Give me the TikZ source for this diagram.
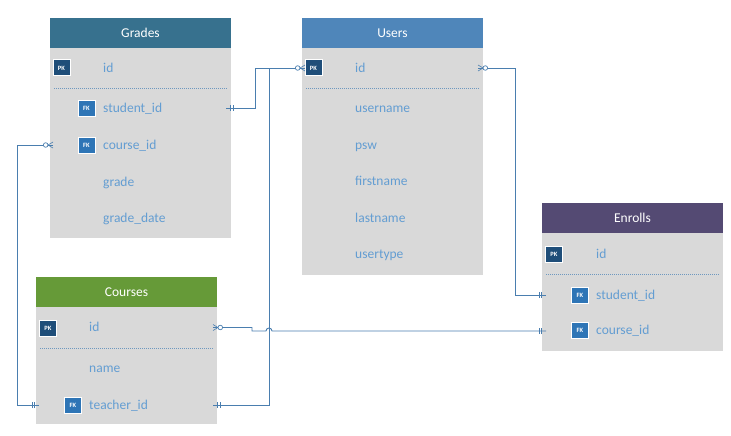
\documentclass[tikz,border=0pt]{standalone}
\usepackage{fontspec}
\setmainfont{Carlito}
\usetikzlibrary{positioning}
\definecolor{gradeshd}{HTML}{37718E}
\definecolor{usershd}{HTML}{4F86BA}
\definecolor{courseshd}{HTML}{669A38}
\definecolor{enrollshd}{HTML}{544A73}
\definecolor{bodygray}{HTML}{D9D9D9}
\definecolor{fieldblue}{HTML}{639DD2}
\definecolor{pkblue}{HTML}{1F4E79}
\definecolor{fkblue}{HTML}{2E75B6}
\definecolor{relblue}{HTML}{4A7EAF}

\begin{document}
\begin{tikzpicture}[x=1pt,y=-1pt,
    hdr/.style={minimum width=181pt,minimum height=30pt,inner sep=0pt,text=white,font=\fontsize{13.5}{16}\selectfont},
    tbl/.style={fill=bodygray,minimum width=181pt,inner sep=0pt},
    fld/.style={anchor=base west,yshift=-4.5pt,inner sep=0pt,text=fieldblue,font=\fontsize{13.5}{16}\selectfont},
    pk/.style={fill=pkblue,draw=white,line width=1pt,minimum width=17pt,minimum height=16pt,inner sep=0pt,text=white,font=\fontsize{6.5}{7}\selectfont\bfseries},
    fk/.style={pk,fill=fkblue},
    sep/.style={draw=relblue!80,dash pattern=on 1pt off 1pt,line width=.6pt},
    rel/.style={draw=relblue,line width=.9pt},
    one/.pic={\draw[rel,line width=.6pt] (4.5,-3) -- (4.5,3) (7,-3) -- (7,3);},
    zmany/.pic={\draw[rel,line width=.6pt] (0,-3) -- (5,0) -- (0,3);
                \draw[rel,line width=.7pt,fill=white] (7.3,0) circle[radius=2.3];}
    ]
    \useasboundingbox (0,0) rectangle (731,436);

    %% Grades
    \node[hdr,fill=gradeshd] (grades) at (140.5,33) {Grades};
    \node[tbl,minimum height=190pt,below=0pt of grades] (gradesb) {};
    \node[pk] (g-pk) at (61.5,68) {PK};
    \node[fld] (g-id) at (103,68) {id};
    \draw[sep] (54,88) -- (227,88);
    \node[fk] (g-fk1) at (86.5,108) {FK};
    \node[fld] (g-sid) at (103,108) {student\_id};
    \node[fk] (g-fk2) at (86.5,145) {FK};
    \node[fld] (g-cid) at (103,145) {course\_id};
    \node[fld] (g-gr) at (103,182) {grade};
    \node[fld] (g-gd) at (103,218) {grade\_date};

    %% Users
    \node[hdr,fill=usershd] (users) at (392.5,33) {Users};
    \node[tbl,minimum height=227pt,below=0pt of users] (usersb) {};
    \node[pk] (u-pk) at (313.5,68) {PK};
    \node[fld] (u-id) at (355,68) {id};
    \draw[sep] (306,88) -- (479,88);
    \node[fld] (u-un) at (355,108) {username};
    \node[fld] (u-pw) at (355,145) {psw};
    \node[fld] (u-fn) at (355,181) {firstname};
    \node[fld] (u-ln) at (355,218) {lastname};
    \node[fld] (u-ut) at (355,254) {usertype};

    %% Courses
    \node[hdr,fill=courseshd] (courses) at (126.5,292) {Courses};
    \node[tbl,minimum height=117pt,below=0pt of courses] (coursesb) {};
    \node[pk] (c-pk) at (48,328) {PK};
    \node[fld] (c-id) at (89,327) {id};
    \draw[sep] (40,348) -- (213,348);
    \node[fld] (c-nm) at (89,368) {name};
    \node[fk] (c-fk) at (73,405) {FK};
    \node[fld] (c-tid) at (89,405) {teacher\_id};

    %% Enrolls
    \node[hdr,fill=enrollshd] (enrolls) at (632.5,218) {Enrolls};
    \node[tbl,minimum height=118pt,below=0pt of enrolls] (enrollsb) {};
    \node[pk] (e-pk) at (554,254) {PK};
    \node[fld] (e-id) at (596,254) {id};
    \draw[sep] (546,274) -- (719,274);
    \node[fk] (e-fk1) at (580,295) {FK};
    \node[fld] (e-sid) at (596,295) {student\_id};
    \node[fk] (e-fk2) at (580,330) {FK};
    \node[fld] (e-cid) at (596,330) {course\_id};

    % ends of the relations
    \coordinate (gs) at (226,108);
    \coordinate (ui) at (305,68);
    \coordinate (ct) at (213,405);
    \coordinate (jn) at (269,68);
    \coordinate (gc) at (53,145);
    \coordinate (cl) at (39,405);
    \coordinate (ur) at (478,68);
    \coordinate (es) at (546,295);
    \coordinate (ci) at (213,327.5);
    \coordinate (ec) at (546,331);

    \draw[rel] (gs) -- ++(29,0) |- (ui);
    \draw[rel] (ct) -| (jn);
    \draw[rel] (gc) -- ++(-36,0) |- (cl);
    \draw[rel] (ur) -- ++(37,0) |- (es);
    \draw[rel] (ci) -- ++(39,0) |- (266,331)
        arc[start angle=180,end angle=360,radius=3] -- (ec);

    \pic at (gs) {one};
    \pic[rotate=180] at (ui) {zmany};
    \pic at (ct) {one};
    \pic[rotate=180] at (gc) {zmany};
    \pic[rotate=180] at (cl) {one};
    \pic at (ur) {zmany};
    \pic[rotate=180] at (es) {one};
    \pic at (ci) {zmany};
    \pic[rotate=180] at (ec) {one};
\end{tikzpicture}
\end{document}
